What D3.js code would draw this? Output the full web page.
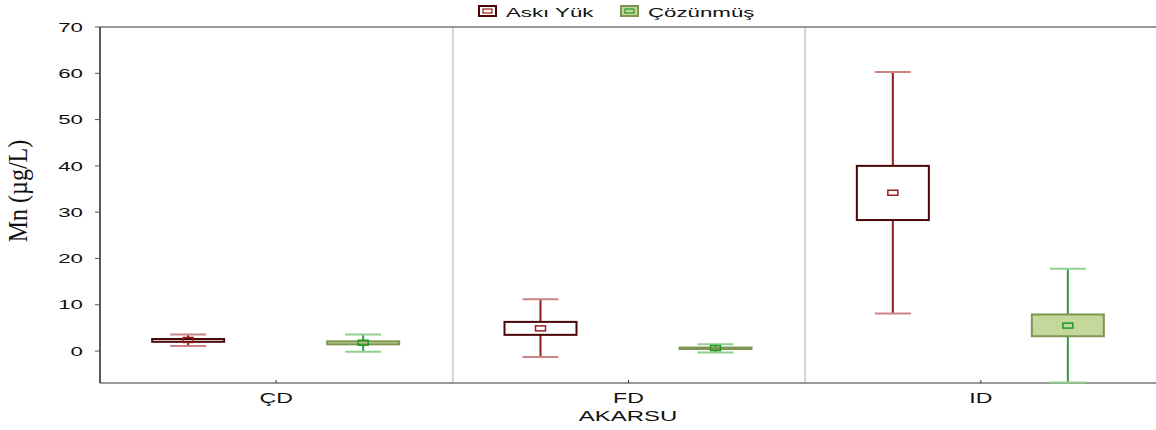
<!DOCTYPE html>
<html>
<head>
<meta charset="utf-8">
<script src="https://cdn.jsdelivr.net/npm/d3@7"></script>
<style>
  body { margin: 0; background: #fff; }
  text { font-family: "Liberation Sans", Arial, sans-serif; fill: #111; }
</style>
</head>
<body>
<script>
// data
var categories = ["ÇD", "FD", "ID"];
var seriesNames = ["Askı Yük", "Çözünmüş"];
// per category: [whiskerLow, boxLow, mean, boxHigh, whiskerHigh]
var askiYuk = [
  [1.1, 2.0, 2.4, 2.6, 3.6],
  [-1.3, 3.5, 4.9, 6.3, 11.2],
  [8.1, 28.3, 34.2, 40.0, 60.3]
];
var cozunmus = [
  [-0.15, 1.45, 1.8, 2.1, 3.6],
  [-0.3, 0.45, 0.65, 0.75, 1.45],
  [-6.8, 3.2, 5.5, 7.9, 17.8]
];
var yTicks = [0, 10, 20, 30, 40, 50, 60, 70];

var width = 1156, height = 430;
var plotLeft = 100, plotRight = 1157, plotTop = 27, plotBottom = 383;
var stretch = 1.65;

var svg = d3.select("body").append("svg")
            .attr("width", width)
            .attr("height", height);

var x = d3.scaleBand().domain(categories).range([plotLeft, plotRight]);
var y = d3.scaleLinear().domain([-6.9, 70]).range([plotBottom, plotTop]);

var styles = [
  { box: "#4a0606", fill: "#ffffff", whisker: "#8e1c1c", cap: "#cc8484", mean: "#9a1c1c" },
  { box: "#7e9552", fill: "#c4d89c", whisker: "#34993a", cap: "#8fd08f", mean: "#1f9a24" }
];

// separators between categories
svg.selectAll("line.sep")
   .data(categories.slice(1))
   .enter().append("line")
   .attr("class", "sep")
   .attr("x1", d => x(d) + 0.5).attr("x2", d => x(d) + 0.5)
   .attr("y1", plotTop).attr("y2", plotBottom)
   .attr("stroke", "#d4d4d4").attr("stroke-width", 2);

// frame
svg.append("line").attr("x1", plotLeft).attr("x2", plotRight).attr("y1", plotTop).attr("y2", plotTop)
   .attr("stroke", "#777").attr("stroke-width", 1.5);
svg.append("line").attr("x1", plotLeft).attr("x2", plotRight).attr("y1", plotBottom).attr("y2", plotBottom)
   .attr("stroke", "#777").attr("stroke-width", 1.5);
svg.append("line").attr("x1", plotLeft).attr("x2", plotLeft).attr("y1", plotTop).attr("y2", plotBottom)
   .attr("stroke", "#222").attr("stroke-width", 1.5);

// y ticks and labels
var yAxis = svg.append("g");
yAxis.selectAll("line").data(yTicks).enter().append("line")
     .attr("x1", plotLeft - 5).attr("x2", plotLeft)
     .attr("y1", d => y(d)).attr("y2", d => y(d))
     .attr("stroke", "#555");
yAxis.selectAll("text").data(yTicks).enter().append("text")
     .attr("transform", d => "translate(83," + (y(d) + 4.7) + ") scale(" + stretch + ",1)")
     .attr("text-anchor", "end")
     .attr("font-size", 13.5)
     .text(d => d);

// x ticks and labels
var xAxis = svg.append("g");
xAxis.selectAll("line").data(categories).enter().append("line")
     .attr("x1", d => x(d) + x.bandwidth() / 2).attr("x2", d => x(d) + x.bandwidth() / 2)
     .attr("y1", plotBottom - 3).attr("y2", plotBottom)
     .attr("stroke", "#333");
xAxis.selectAll("text").data(categories).enter().append("text")
     .attr("transform", d => "translate(" + (x(d) + x.bandwidth() / 2) + ",403) scale(" + stretch + ",1)")
     .attr("text-anchor", "middle")
     .attr("font-size", 14)
     .text(d => d);

svg.append("text")
   .attr("transform", "translate(628,421) scale(" + stretch + ",1)")
   .attr("text-anchor", "middle")
   .attr("font-size", 14.5)
   .text("AKARSU");

svg.append("text")
   .attr("transform", "translate(27,191) scale(1.15,1) rotate(-90)")
   .attr("text-anchor", "middle")
   .style("font-family", "'Liberation Serif', 'Times New Roman', serif")
   .attr("font-size", 24)
   .text("Mn (µg/L)");

// boxes
var offsets = [-88, 87];
var boxW = 72, capW = 36;
[askiYuk, cozunmus].forEach(function (series, si) {
  var st = styles[si];
  var g = svg.append("g").selectAll("g")
             .data(series).enter().append("g")
             .attr("transform", (d, i) => "translate(" + (x(categories[i]) + x.bandwidth() / 2 + offsets[si]) + ",0)");

  // whiskers
  g.append("line").attr("x1", 0).attr("x2", 0)
   .attr("y1", d => y(d[0])).attr("y2", d => y(d[1]))
   .attr("stroke", st.whisker).attr("stroke-width", 2);
  g.append("line").attr("x1", 0).attr("x2", 0)
   .attr("y1", d => y(d[3])).attr("y2", d => y(d[4]))
   .attr("stroke", st.whisker).attr("stroke-width", 2);
  // caps
  g.append("line").attr("x1", -capW / 2).attr("x2", capW / 2)
   .attr("y1", d => y(d[0])).attr("y2", d => y(d[0]))
   .attr("stroke", st.cap).attr("stroke-width", 2);
  g.append("line").attr("x1", -capW / 2).attr("x2", capW / 2)
   .attr("y1", d => y(d[4])).attr("y2", d => y(d[4]))
   .attr("stroke", st.cap).attr("stroke-width", 2);
  // box
  g.append("rect")
   .attr("x", -boxW / 2).attr("width", boxW)
   .attr("y", d => y(d[3]))
   .attr("height", d => Math.max(1, y(d[1]) - y(d[3])))
   .attr("fill", st.fill).attr("stroke", st.box).attr("stroke-width", 2);
  // mean marker
  g.append("rect")
   .attr("x", -5).attr("width", 10)
   .attr("y", d => y(d[2]) - 2.5).attr("height", 5)
   .attr("fill", "none").attr("stroke", st.mean).attr("stroke-width", 1.5);
});

// legend
var legend = svg.append("g").selectAll("g")
                .data(seriesNames).enter().append("g")
                .attr("transform", (d, i) => "translate(" + [478, 620][i] + ",5)");
legend.append("rect")
      .attr("x", 1).attr("y", 1).attr("width", 17).attr("height", 10)
      .attr("fill", (d, i) => styles[i].fill)
      .attr("stroke", (d, i) => styles[i].box).attr("stroke-width", 2);
legend.append("rect")
      .attr("x", 5).attr("y", 4).attr("width", 9).attr("height", 4)
      .attr("fill", "none")
      .attr("stroke", (d, i) => styles[i].mean).attr("stroke-width", 1.2);
legend.append("text")
      .attr("transform", "translate(28,11.5) scale(" + stretch + ",1)")
      .attr("font-size", 13.5)
      .text(d => d);
</script>
</body>
</html>
